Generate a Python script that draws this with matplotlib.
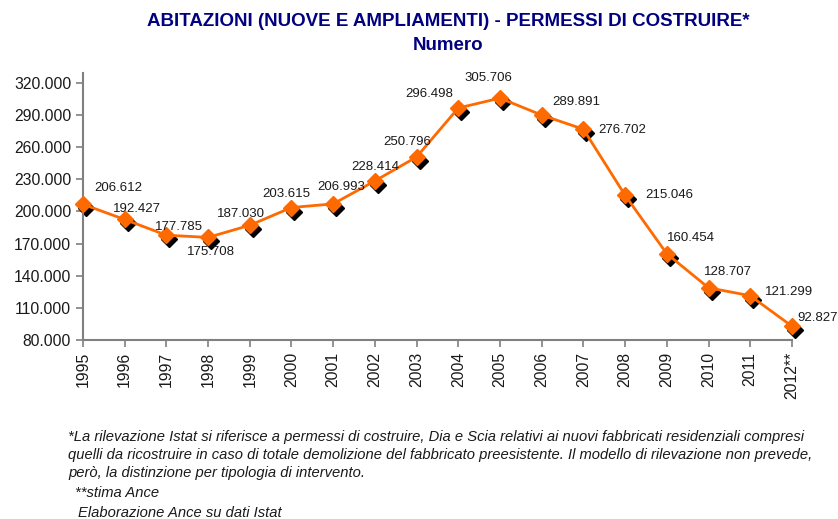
import matplotlib
matplotlib.use("Agg")
import matplotlib.pyplot as plt
import matplotlib.transforms as mtransforms
from matplotlib.ticker import FuncFormatter

anni = [1995, 1996, 1997, 1998, 1999, 2000, 2001, 2002, 2003,
        2004, 2005, 2006, 2007, 2008, 2009, 2010, 2011, 2012]
etichette_anni = [str(a) for a in anni[:-1]] + ["2012**"]
permessi = [206612, 192427, 177785, 175708, 187030, 203615, 206993, 228414, 250796,
            296498, 305706, 289891, 276702, 215046, 160454, 128707, 121299, 92827]
# spostamento delle etichette (pixel)
spost_etichette = [(35, 16), (12, 10), (13, 8), (3, -15), (-9, 11), (-5, 14), (8, 17),
                   (0, 14), (-9, 15), (-29, 14), (-12, 20), (35, 13), (39, -1),
                   (44, 0), (24, 16), (19, 16), (39, 4), (26, 8)]

plt.rcParams['font.family'] = ['Liberation Sans', 'DejaVu Sans']

fig = plt.figure(figsize=(8.38, 5.19), dpi=100)
ax = fig.add_axes([0.099, 0.345, 0.846, 0.514])

ombra = mtransforms.offset_copy(ax.transData, fig=fig, x=3, y=-4, units='dots')
ax.plot(anni, permessi, linestyle='none', marker='D', markersize=8.5,
        color='black', transform=ombra, clip_on=False, zorder=2)
ax.plot(anni, permessi, color='#FF6A00', linewidth=2, marker='D', markersize=8.5,
        markerfacecolor='#FF6A00', markeredgecolor='#FF6A00', clip_on=False, zorder=3)

def fmt_migliaia(v):
    return f"{int(round(v)):,}".replace(",", ".")

for a, v, (dx, dy) in zip(anni, permessi, spost_etichette):
    ax.annotate(fmt_migliaia(v), (a, v), xytext=(dx, dy), textcoords='offset pixels',
                ha='center', va='center', fontsize=9.5, color='#1a1a1a')

ax.set_xlim(1995, 2012)
ax.set_ylim(80000, 329000)
ax.set_yticks(range(80000, 320001, 30000))
ax.yaxis.set_major_formatter(FuncFormatter(lambda v, p: fmt_migliaia(v)))
ax.set_xticks(anni)
ax.set_xticklabels(etichette_anni, rotation=90)
ax.tick_params(axis='both', labelsize=11.3, colors='#1a1a1a', length=5, width=1.2,
               direction='out', color='#808080')

for lato in ['top', 'right']:
    ax.spines[lato].set_visible(False)
for lato in ['left', 'bottom']:
    ax.spines[lato].set_color('#808080')
    ax.spines[lato].set_linewidth(1.5)

fig.text(0.535, 0.958, "ABITAZIONI (NUOVE E AMPLIAMENTI) - PERMESSI DI COSTRUIRE*",
         ha='center', va='center', fontsize=13.5, fontweight='bold', color='#000080')
fig.text(0.535, 0.913, "Numero", ha='center', va='center', fontsize=13.5,
         fontweight='bold', color='#000080')

note = [
    (68, 437, "*La rilevazione Istat si riferisce a permessi di costruire, Dia e Scia relativi ai nuovi fabbricati residenziali compresi"),
    (68, 455, "quelli da ricostruire in caso di totale demolizione del fabbricato preesistente. Il modello di rilevazione non prevede,"),
    (68, 473, "però, la distinzione per tipologia di intervento."),
    (75, 493, "**stima Ance"),
    (78, 513, "Elaborazione Ance su dati Istat"),
]
for x, y, testo in note:
    fig.text(x / 838, 1 - y / 519, testo, ha='left', va='center', fontsize=10.6,
             style='italic', color='#1a1a1a')

fig.savefig("out.png", dpi=100)
